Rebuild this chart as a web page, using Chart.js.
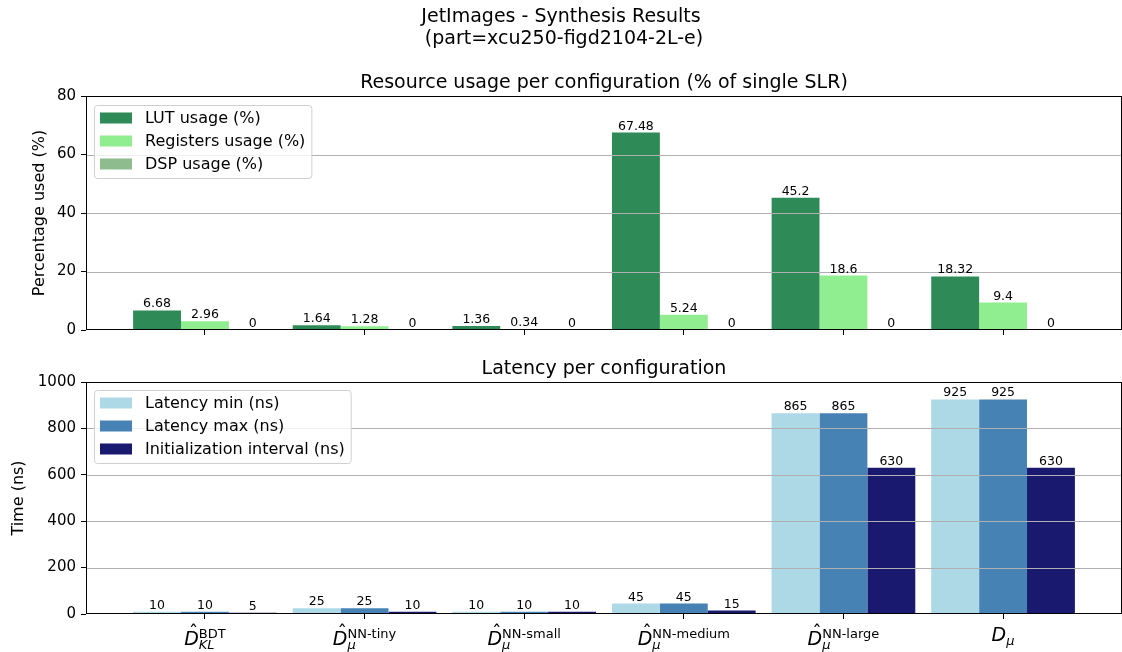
<!DOCTYPE html>
<html>
<head>
<meta charset="utf-8">
<script src="https://cdn.jsdelivr.net/npm/chart.js@4/dist/chart.umd.min.js"></script>
<style>
  body { margin: 0; background: #fff; }
  #wrap { position: relative; width: 1122px; height: 652px; }
  canvas { position: absolute; left: 0; }
  #top { top: 0; }
  #bottom { top: 345px; }
</style>
</head>
<body>
<div id="wrap">
  <canvas id="top" width="1122" height="345"></canvas>
  <canvas id="bottom" width="1122" height="307"></canvas>
</div>
<script>
// categories use a small mathtext-like form: D, optional hat, _sub, ^sup
const categories = ["D\u0302_KL^BDT", "D\u0302_μ^NN-tiny", "D\u0302_μ^NN-small", "D\u0302_μ^NN-medium", "D\u0302_μ^NN-large", "D_μ"];

const lutUsage = [6.68, 1.64, 1.36, 67.48, 45.2, 18.32];
const regUsage = [2.96, 1.28, 0.34, 5.24, 18.6, 9.4];
const dspUsage = [0, 0, 0, 0, 0, 0];

const latencyMin = [10, 25, 10, 45, 865, 925];
const latencyMax = [10, 25, 10, 45, 865, 925];
const initInterval = [5, 10, 10, 15, 630, 630];

const resourceTicks = [0, 20, 40, 60, 80];
const latencyTicks = [0, 200, 400, 600, 800, 1000];

const FONT = '"DejaVu Sans", sans-serif';
Chart.defaults.font.family = FONT;
Chart.defaults.color = "#000";

function points(values) {
  return values.map(function (v, i) {
    return { x: i, y: v };
  });
}

function drawMathLabel(ctx, text, cx, bottom) {
  var m = text.match(/^D(\u0302?)_([^\^]+)(?:\^(.+))?$/);
  var hat = m[1] !== "";
  var sub = m[2];
  var sup = m[3] || "";
  var base = bottom + (hat ? 31 : 27);

  ctx.font = "italic 19px " + FONT;
  var wD = ctx.measureText("D").width;
  ctx.font = "italic 13px " + FONT;
  var wSub = ctx.measureText(sub).width;
  ctx.font = "13px " + FONT;
  var wSup = ctx.measureText(sup).width;
  var x0 = cx - (wD + Math.max(wSub, wSup)) / 2;

  ctx.fillStyle = "#000";
  ctx.textBaseline = "alphabetic";
  ctx.textAlign = "left";
  ctx.font = "italic 19px " + FONT;
  ctx.fillText("D", x0, base);
  if (hat) {
    ctx.textAlign = "center";
    ctx.font = "19px " + FONT;
    ctx.fillText("\u02C6", x0 + wD / 2 + 2, base - 6);
    ctx.textAlign = "left";
  }
  ctx.font = "italic 13px " + FONT;
  ctx.fillText(sub, x0 + wD, base + 4);
  if (sup) {
    ctx.font = "13px " + FONT;
    ctx.fillText(sup, x0 + wD, base - 7);
  }
}

const decor = {
  id: "decor",
  afterDatasetsDraw: function (chart, args, opts) {
    var ctx = chart.ctx;
    var area = chart.chartArea;
    var y = chart.scales.y;
    ctx.save();

    // grid lines sit above the bars, as in matplotlib
    ctx.strokeStyle = "#b0b0b0";
    ctx.lineWidth = 1;
    y.ticks.forEach(function (t) {
      var py = Math.round(y.getPixelForValue(t.value)) + 0.5;
      if (py <= area.top + 1 || py >= area.bottom - 1) return;
      ctx.beginPath();
      ctx.moveTo(area.left, py);
      ctx.lineTo(area.right, py);
      ctx.stroke();
    });

    // value labels on top of each bar
    ctx.fillStyle = "#000";
    ctx.font = "12.5px " + FONT;
    ctx.textAlign = "center";
    ctx.textBaseline = "alphabetic";
    chart.data.datasets.forEach(function (ds, di) {
      chart.getDatasetMeta(di).data.forEach(function (bar, i) {
        ctx.fillText(String(ds.data[i].y), bar.x, bar.y - 3);
      });
    });

    // frame
    ctx.strokeStyle = "#000";
    ctx.lineWidth = 1;
    ctx.strokeRect(area.left + 0.5, Math.round(area.top) + 0.5, area.right - area.left - 1, Math.round(area.bottom - area.top) - 1);

    // legend
    var lx = area.left + 8, ly = area.top + opts.legendTop;
    ctx.font = "16px " + FONT;
    var wMax = 0;
    chart.data.datasets.forEach(function (ds) {
      wMax = Math.max(wMax, ctx.measureText(ds.label).width);
    });
    var lw = 51 + wMax + 6, lh = 13 + 23 * (chart.data.datasets.length - 1) + 14;
    ctx.beginPath();
    ctx.roundRect(lx + 0.5, ly + 0.5, lw, lh, 3);
    ctx.fillStyle = "rgba(255,255,255,0.8)";
    ctx.fill();
    ctx.strokeStyle = "#d0d0d0";
    ctx.stroke();
    ctx.textAlign = "left";
    ctx.textBaseline = "middle";
    chart.data.datasets.forEach(function (ds, i) {
      var cy = ly + 13 + 23 * i;
      ctx.fillStyle = ds.backgroundColor;
      ctx.fillRect(lx + 6, cy - 5.5, 32, 11);
      ctx.fillStyle = "#000";
      ctx.fillText(ds.label, lx + 51, cy + 1);
    });
    ctx.restore();
  },
  afterDraw: function (chart, args, opts) {
    var ctx = chart.ctx;
    var area = chart.chartArea;
    ctx.save();
    ctx.fillStyle = "#000";
    ctx.textAlign = "center";
    ctx.textBaseline = "alphabetic";
    ctx.font = "19px " + FONT;
    if (opts.suptitle) {
      ctx.fillText(opts.suptitle[0], 561, 22);
      ctx.fillText(opts.suptitle[1], 561, 44);
    }
    ctx.fillText(opts.title, (area.left + area.right) / 2, area.top - 8);

    ctx.font = "16px " + FONT;
    ctx.textBaseline = "middle";
    ctx.translate(opts.yTitleX, (area.top + area.bottom) / 2);
    ctx.rotate(-Math.PI / 2);
    ctx.fillText(opts.yTitle, 0, 0);
    ctx.restore();

    if (opts.mathLabels) {
      ctx.save();
      var x = chart.scales.x;
      categories.forEach(function (c, i) {
        drawMathLabel(ctx, c, x.getPixelForValue(i), area.bottom);
      });
      ctx.restore();
    }
  }
};

function makeChart(id, cfg) {
  return new Chart(document.getElementById(id), {
    type: "bar",
    data: {
      datasets: cfg.series.map(function (s) {
        return {
          label: s.label,
          data: points(s.values),
          backgroundColor: s.color,
          borderWidth: 0,
          categoryPercentage: 0.9,
          barPercentage: 1,
        };
      }),
    },
    options: {
      responsive: false,
      animation: false,
      devicePixelRatio: 1,
      layout: { padding: { top: cfg.padTop, right: 0, left: 0, bottom: 0 } },
      plugins: {
        legend: { display: false },
        tooltip: { enabled: false },
        decor: cfg.decor,
      },
      scales: {
        x: {
          type: "linear",
          min: -0.745,
          max: 5.745,
          offset: false,
          afterBuildTicks: function (s) {
            s.ticks = categories.map(function (c, i) {
              return { value: i };
            });
          },
          afterFit: function (s) {
            s.height = cfg.xHeight;
          },
          ticks: { display: false },
          grid: { offset: false, drawOnChartArea: false, drawTicks: true, tickLength: 5, color: "#000" },
          border: { display: false },
        },
        y: {
          min: 0,
          max: cfg.ticks[cfg.ticks.length - 1],
          afterBuildTicks: function (s) {
            s.ticks = cfg.ticks.map(function (v) {
              return { value: v };
            });
          },
          afterFit: function (s) {
            s.width = 86;
          },
          ticks: {
            font: { size: 15 },
            padding: 5,
            color: "#000",
            callback: function (v) {
              return String(v);
            },
          },
          grid: { drawOnChartArea: false, drawTicks: true, tickLength: 5, color: "#000" },
          border: { display: false },
        },
      },
    },
    plugins: [decor],
  });
}

makeChart("top", {
  padTop: 96,
  xHeight: 15,
  ticks: resourceTicks,
  series: [
    { label: "LUT usage (%)", values: lutUsage, color: "#2e8b57" },
    { label: "Registers usage (%)", values: regUsage, color: "#90ee90" },
    { label: "DSP usage (%)", values: dspUsage, color: "#8fbc8f" },
  ],
  decor: {
    suptitle: ["JetImages - Synthesis Results", " (part=xcu250-figd2104-2L-e)"],
    title: "Resource usage per configuration (% of single SLR)",
    yTitle: "Percentage used (%)",
    yTitleX: 40,
    legendTop: 9,
  },
});

makeChart("bottom", {
  padTop: 37,
  xHeight: 38,
  ticks: latencyTicks,
  series: [
    { label: "Latency min (ns)", values: latencyMin, color: "#add8e6" },
    { label: "Latency max (ns)", values: latencyMax, color: "#4682b4" },
    { label: "Initialization interval (ns)", values: initInterval, color: "#191970" },
  ],
  decor: {
    title: "Latency per configuration",
    yTitle: "Time (ns)",
    yTitleX: 19,
    legendTop: 8,
    mathLabels: true,
  },
});
</script>
</body>
</html>
